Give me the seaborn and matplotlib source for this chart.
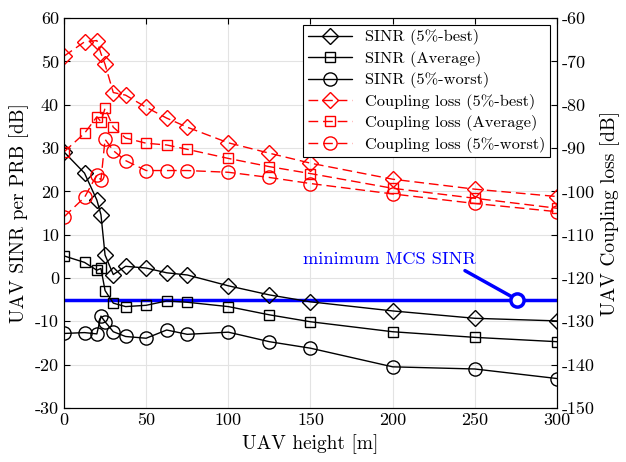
import numpy as np
import pandas as pd
import matplotlib
matplotlib.use("Agg")
import matplotlib.pyplot as plt
import seaborn as sns

# UAV height [m]
heights = [0, 12.5, 20, 22.5, 25, 30, 37.5, 50, 62.5, 75, 100, 125, 150, 200, 250, 300]

# SINR per PRB [dB] (left axis)
sinr_best = [29.1, 24.2, 18.0, 14.6, 5.3, 0.8, 2.7, 2.3, 1.2, 0.7, -1.8, -3.9, -5.5, -7.6, -9.3, -9.9]
sinr_avg = [5.1, 3.6, 1.8, 2.2, -2.9, -5.8, -6.6, -6.3, -5.3, -5.6, -6.6, -8.5, -10.1, -12.4, -13.7, -14.7]
sinr_worst = [-12.8, -12.6, -12.9, -8.8, -10.1, -12.4, -13.5, -13.9, -12.0, -13.0, -12.5, -14.7, -16.2, -20.5, -21.0, -23.2]

# coupling loss [dB] (right axis)
cl_best = [-68.8, -65.5, -65.2, -68.2, -70.7, -77.2, -77.8, -80.6, -83.1, -85.2, -88.8, -91.2, -93.5, -97.2, -99.5, -101.2]
cl_avg = [-90.9, -86.6, -82.8, -83.9, -80.8, -85.2, -87.7, -88.9, -89.3, -90.3, -92.4, -94.3, -95.9, -99.3, -101.6, -103.9]
cl_worst = [-105.9, -101.4, -96.2, -97.4, -88.0, -90.6, -92.9, -95.2, -95.2, -95.2, -95.6, -96.8, -98.2, -100.6, -102.8, -104.7]

min_mcs_sinr = -5

sns.set_theme(style="whitegrid")
plt.rcParams["font.family"] = ["cmr10", "DejaVu Serif"]
plt.rcParams["mathtext.fontset"] = "cm"
plt.rcParams["axes.unicode_minus"] = False
plt.rcParams["axes.formatter.use_mathtext"] = False
plt.rcParams["text.color"] = "black"
plt.rcParams["axes.labelcolor"] = "black"

fig = plt.figure(figsize=(6.26, 4.62), dpi=100)
ax = fig.add_axes([0.1022, 0.1169, 0.7876, 0.8441])
ax2 = ax.twinx()

df = pd.DataFrame({"h": heights, "sb": sinr_best, "sa": sinr_avg, "sw": sinr_worst,
                   "cb": cl_best, "ca": cl_avg, "cw": cl_worst})

black_kw = dict(color="black", lw=1.0, mfc="none", mec="black", mew=1.0, sort=False)
red_kw = dict(color="red", lw=1.0, mfc="none", mec="red", mew=1.0, sort=False,
              dashes=(7, 3.5))

sns.lineplot(data=df, x="h", y="sb", ax=ax, marker="D", markersize=8.5,
             label="SINR (5%-best)", **black_kw)
sns.lineplot(data=df, x="h", y="sa", ax=ax, marker="s", markersize=7.5,
             label="SINR (Average)", **black_kw)
sns.lineplot(data=df, x="h", y="sw", ax=ax, marker="o", markersize=9.5,
             label="SINR (5%-worst)", **black_kw)

sns.lineplot(data=df, x="h", y="cb", ax=ax2, marker="D", markersize=8.5,
             label="Coupling loss (5%-best)", **red_kw)
sns.lineplot(data=df, x="h", y="ca", ax=ax2, marker="s", markersize=7.5,
             label="Coupling loss (Average)", **red_kw)
sns.lineplot(data=df, x="h", y="cw", ax=ax2, marker="o", markersize=9.5,
             label="Coupling loss (5%-worst)", **red_kw)

# minimum MCS SINR threshold
ax.axhline(min_mcs_sinr, color="blue", lw=2.5, zorder=1)
ax2.plot([244, 275.7], [1.7 - 120, min_mcs_sinr - 120], color="blue", lw=2.5)
ax2.plot([275.7], [min_mcs_sinr - 120], marker="o", ms=9.5, mfc="white", mec="blue", mew=2.5)
ax2.text(198, 4.2 - 120, "minimum MCS SINR", color="blue", fontsize=13.2,
         ha="center", va="center")

ax.set_xlim(0, 300)
ax.set_ylim(-30, 60)
ax2.set_ylim(-150, -60)
ax.set_xticks(np.arange(0, 301, 50))
ax.set_yticks(np.arange(-30, 61, 10))
ax2.set_yticks(np.arange(-150, -59, 10))

ax.set_xlabel("UAV height [m]", fontsize=14, color="black")
ax.set_ylabel("UAV SINR per PRB [dB]", fontsize=14, color="black")
ax2.set_ylabel("UAV Coupling loss [dB]", fontsize=14, color="black")

ax.grid(True, color="#e3e3e3", lw=0.8)
ax2.grid(False)
for a in (ax, ax2):
    a.tick_params(direction="in", length=4, width=0.8, labelsize=13, colors="black")
    for s in a.spines.values():
        s.set_color("black")
        s.set_linewidth(0.8)
ax.tick_params(top=True, labeltop=False, right=False)
ax2.tick_params(right=True, left=False)
ax.set_facecolor("white")

# merged legend
h1, l1 = ax.get_legend_handles_labels()
h2, l2 = ax2.get_legend_handles_labels()
ax.get_legend().remove()
leg = ax2.legend(h1 + h2, l1 + l2, loc="upper right", fontsize=11.8, handlelength=2.7,
                 frameon=True, fancybox=False, framealpha=1, edgecolor="black",
                 borderaxespad=0.4, labelspacing=0.33, borderpad=0.3,
                 labelcolor="black")
leg.get_frame().set_linewidth(0.8)

fig.savefig("out.png", dpi=100)
